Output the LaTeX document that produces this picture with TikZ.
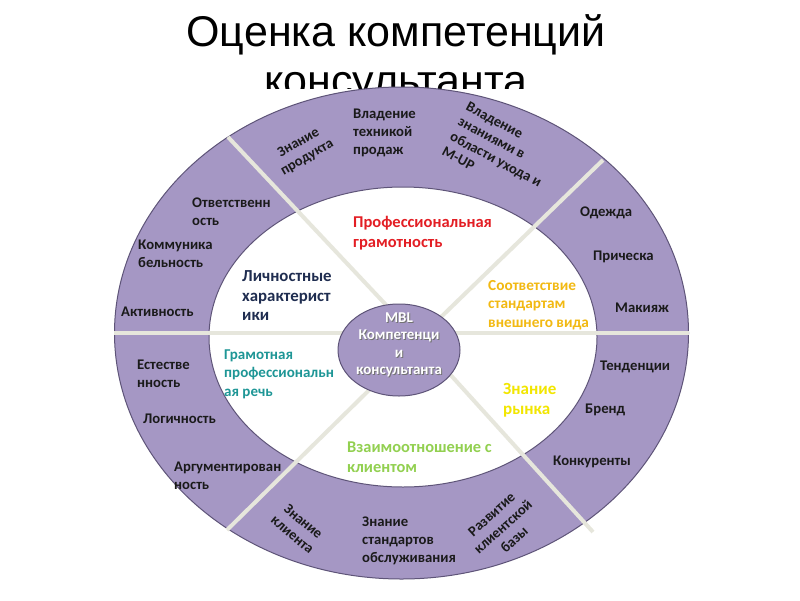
\documentclass[tikz,border=0pt]{standalone}
\usepackage{fontspec}
\setmainfont{Carlito}
\newfontfamily\titlefont{Liberation Sans}
\usetikzlibrary{shapes.geometric,calc}
\definecolor{ringfill}{HTML}{A597C4}
\definecolor{ringline}{HTML}{5E5478}
\definecolor{divline}{HTML}{E6E6DC}
\definecolor{cred}{HTML}{E31E24}
\definecolor{cnavy}{HTML}{1F2D50}
\definecolor{corange}{HTML}{F2B912}
\definecolor{cteal}{HTML}{1E9696}
\definecolor{cyellow}{HTML}{F2E600}
\definecolor{cgreen}{HTML}{92D050}
\definecolor{cdark}{HTML}{1A1A1A}
\tikzset{
  outerlbl/.style={font=\bfseries\fontsize{14.7}{18}\selectfont, text=cdark, align=left, anchor=west, inner sep=0pt},
  rotlbl/.style={font=\bfseries\fontsize{14.5}{17}\selectfont, text=cdark, align=center, anchor=center, inner sep=0pt},
  innerlbl/.style={align=left, anchor=west, inner sep=0pt},
  divider/.style={draw=divline, line width=4pt},
  centfont/.style={font=\bfseries\fontsize{15}{17.5}\selectfont, align=center, inner sep=0pt},
  titlestyle/.style={font=\titlefont\fontsize{43}{55}\selectfont, anchor=base, inner sep=0pt},
}
\begin{document}
\begin{tikzpicture}[x=1pt,y=-1pt]
\useasboundingbox (0,0) rectangle (800,600);
% title, clipped at its text frame
\begin{scope}
\clip (0,0) rectangle (800,88);
\node[titlestyle] (title1) at (396,46) {Оценка компетенций};
\node[titlestyle] (title2) at (396,95) {консультанта};
\end{scope}
% rings
\node[ellipse, draw=ringline, line width=1pt, fill=ringfill, minimum width=574pt, minimum height=492pt, inner sep=0pt] (outer) at (401.5,333) {};
\node[ellipse, draw=ringline, line width=1pt, fill=white, minimum width=388pt, minimum height=300pt, inner sep=0pt] (inner) at (403,337) {};
% dividers
\coordinate (ulo) at (228,137); \coordinate (uli) at (292,205);
\coordinate (uro) at (603,160); \coordinate (uri) at (538,223);
\coordinate (llo) at (227,530); \coordinate (lli) at (293,465);
\coordinate (lro) at (593,532); \coordinate (lri) at (525,457);
\coordinate (hl) at (114,333); \coordinate (hr) at (689,333);
\draw[divider] (ulo) -- ($(ulo)!2.5!(uli)$);
\draw[divider] (uro) -- ($(uro)!2.5!(uri)$);
\draw[divider] (llo) -- ($(llo)!2.4!(lli)$);
\draw[divider] (lro) -- ($(lro)!2.4!(lri)$);
\draw[divider] (hl) -- (hr);
% centre
\node[ellipse, draw=ringline, line width=1pt, fill=ringfill, minimum width=122pt, minimum height=92pt, inner sep=0pt] (cen) at (399,350) {};
\node[centfont, text=black!55] (censh) at (400,346) {MBL\\Компетенци\\и\\консультанта};
\node[centfont, text=white] (centxt) at (399,345) {MBL\\Компетенци\\и\\консультанта};
% inner labels
\node[innerlbl, text=cred, font=\bfseries\fontsize{16.5}{20}\selectfont] (prof) at (353,233) {Профессиональная\\грамотность};
\node[innerlbl, text=cnavy, font=\bfseries\fontsize{16.8}{19.5}\selectfont] (lich) at (242,296) {Личностные\\характерист\\ики};
\node[innerlbl, text=corange, font=\bfseries\fontsize{15.3}{18.5}\selectfont] (sootv) at (488,305) {Соответствие\\стандартам\\внешнего вида};
\node[innerlbl, text=cteal, font=\bfseries\fontsize{15}{18.5}\selectfont] (rech) at (224,374) {Грамотная\\профессиональн\\ая речь};
\node[innerlbl, text=cyellow, font=\bfseries\fontsize{17}{20}\selectfont] (rynok) at (503,400) {Знание\\рынка};
\node[innerlbl, text=cgreen, font=\bfseries\fontsize{16.4}{20}\selectfont] (vzaim) at (347,457) {Взаимоотношение с\\клиентом};
% outer labels, left side
\node[outerlbl] (otv) at (192,212) {Ответственн\\ость};
\node[outerlbl] (komm) at (138,254) {Коммуника\\бельность};
\node[outerlbl] (akt) at (121,312) {Активность};
\node[outerlbl] (est) at (137,374) {Естестве\\нность};
\node[outerlbl] (log) at (143,419) {Логичность};
\node[outerlbl] (arg) at (174,476) {Аргументирован\\ность};
% top
\node[rotlbl, rotate=30] (prod) at (303,150) {Знание\\продукта};
\node[outerlbl] (tekh) at (353,133) {Владение\\техникой\\продаж};
\node[rotlbl, rotate=-28, align=left] (ukhod) at (500,152) {Владение\\знаниями в\\области ухода и\\M-UP};
% right
\node[outerlbl] (odezh) at (580,213) {Одежда};
\node[outerlbl] (prich) at (593,257) {Прическа};
\node[outerlbl] (makiyazh) at (615,308) {Макияж};
\node[outerlbl] (tend) at (600,367) {Тенденции};
\node[outerlbl] (brend) at (585,410) {Бренд};
\node[outerlbl] (konk) at (553,462) {Конкуренты};
% bottom
\node[rotlbl, rotate=-40] (klient) at (298,528) {Знание\\клиента};
\node[outerlbl] (stand) at (362,541) {Знание\\стандартов\\обслуживания};
\node[rotlbl, rotate=42] (baza) at (503,527) {Развитие\\клиентской\\базы};
\end{tikzpicture}
\end{document}
